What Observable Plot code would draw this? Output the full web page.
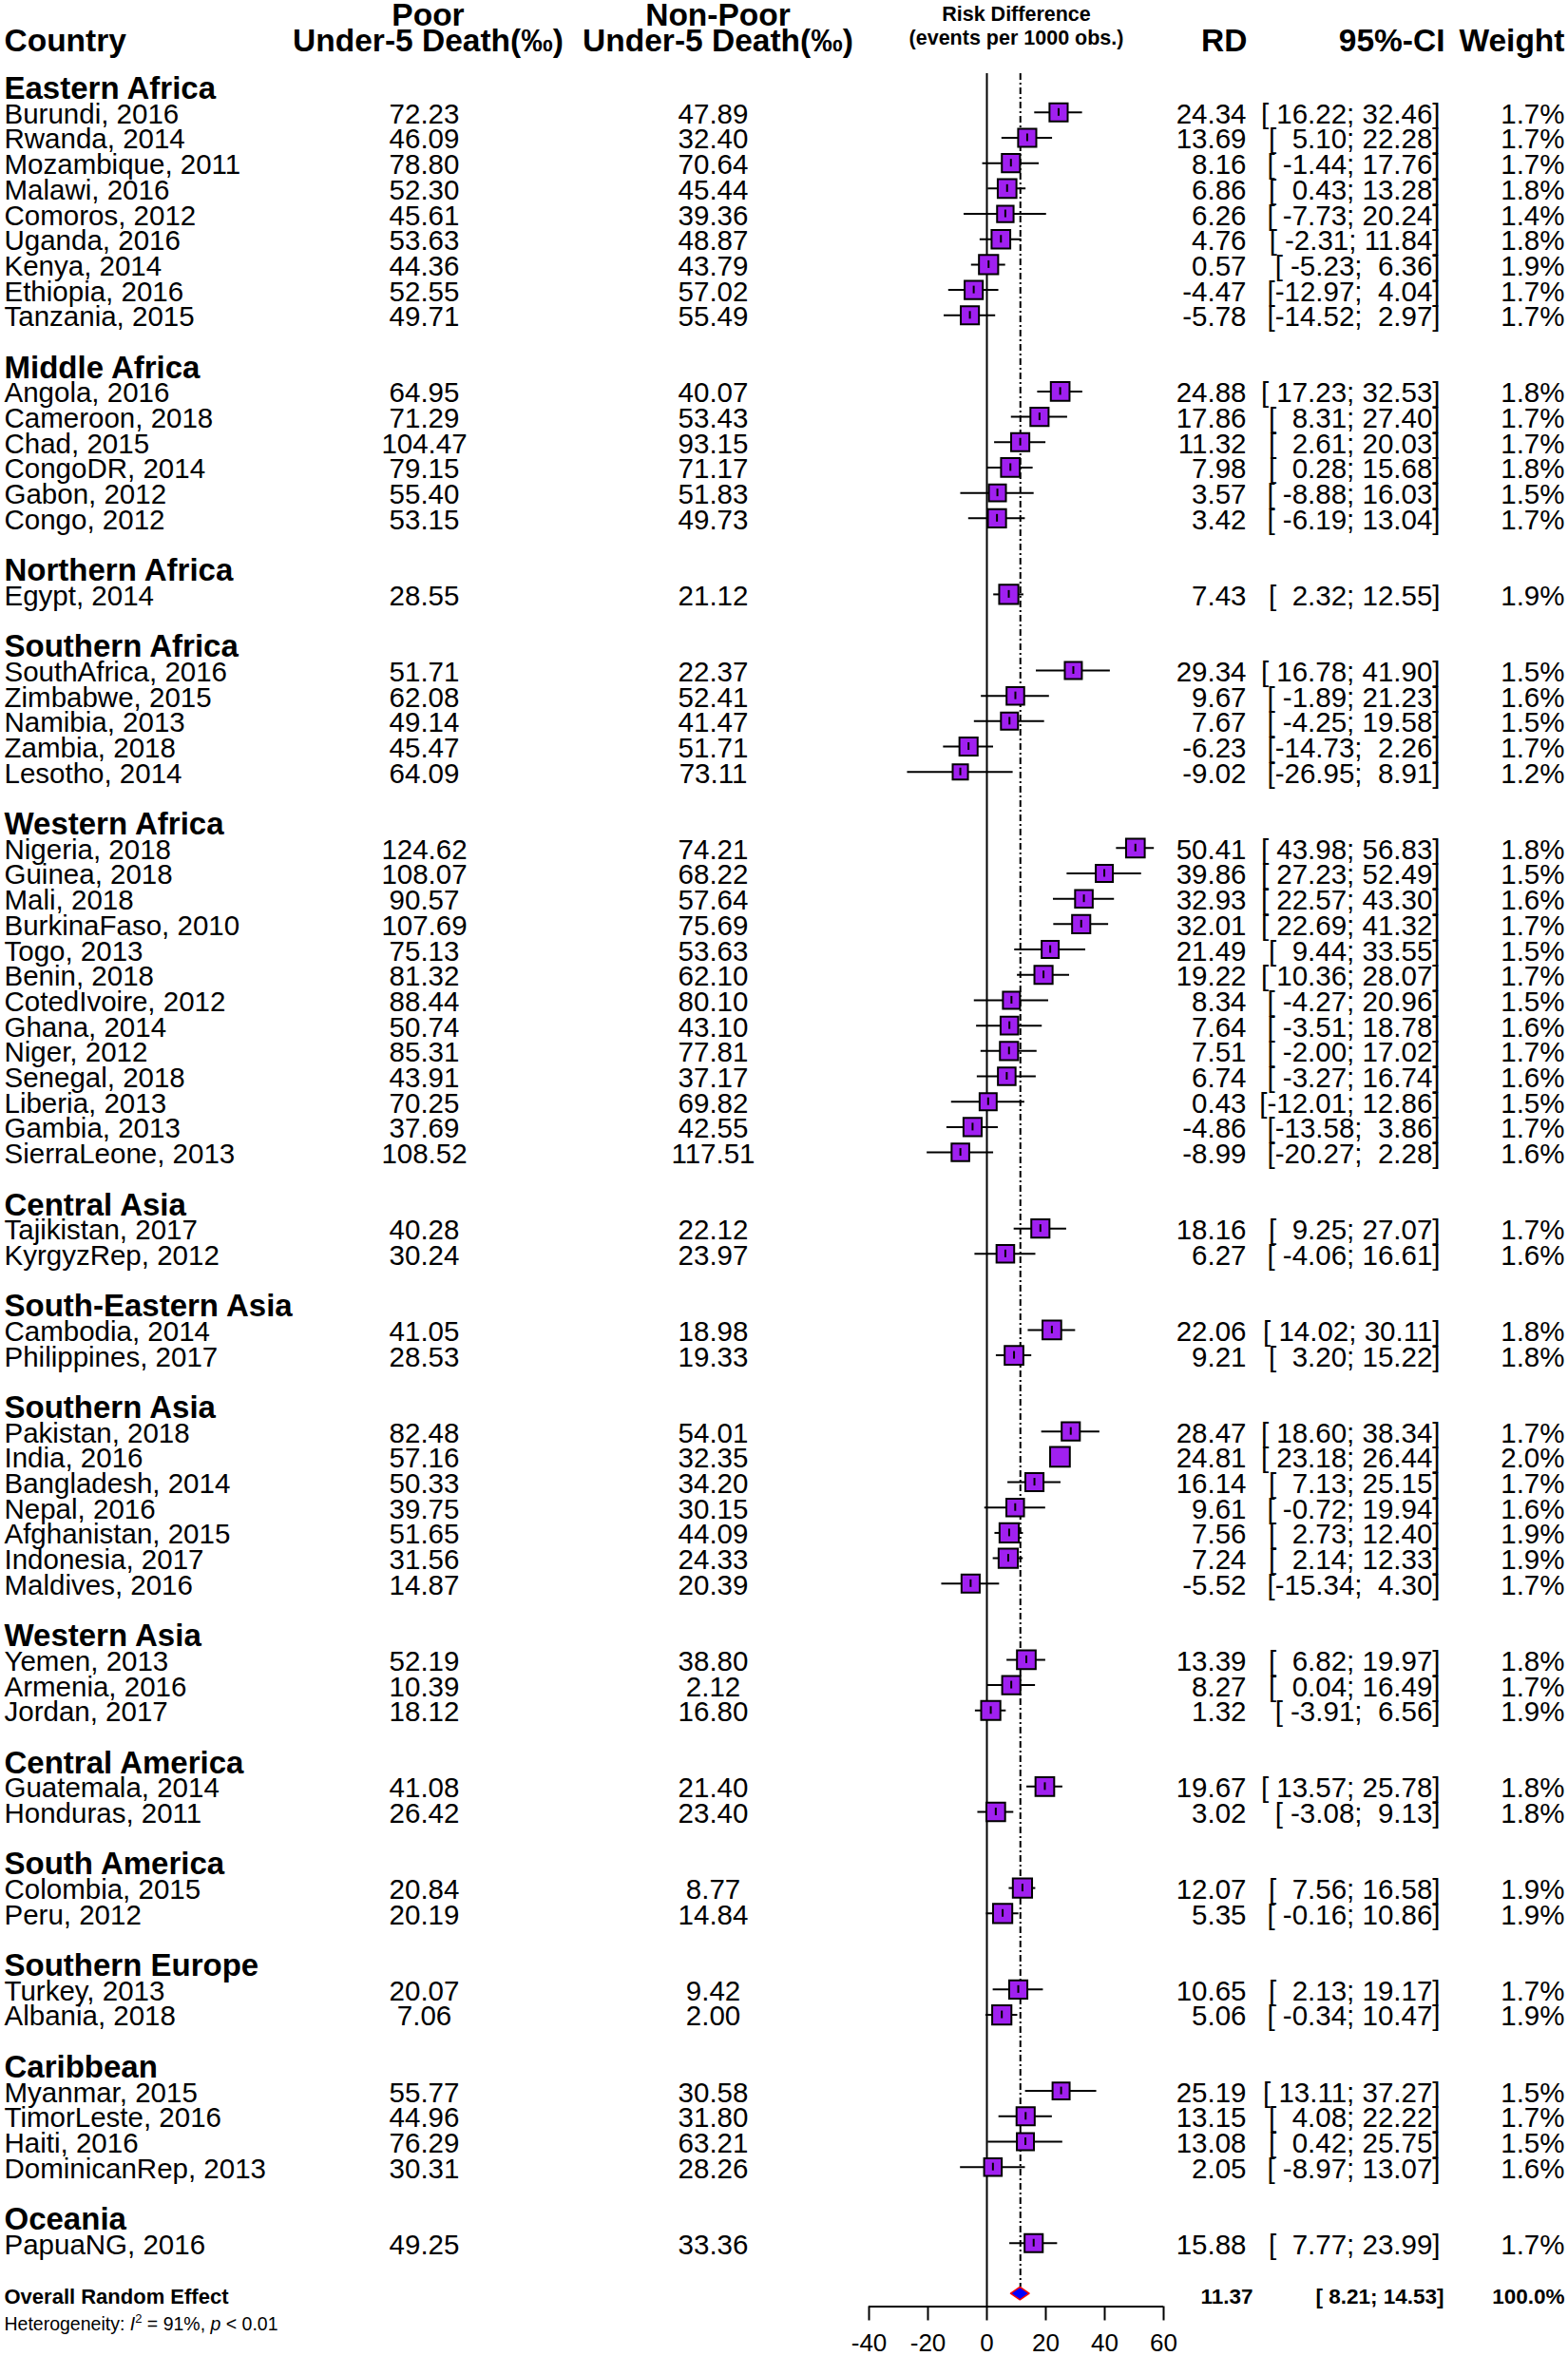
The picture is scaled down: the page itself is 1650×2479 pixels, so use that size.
<!DOCTYPE html>
<html>
<head>
<meta charset="utf-8">
<script src="https://cdn.jsdelivr.net/npm/d3@7"></script>
<script src="https://cdn.jsdelivr.net/npm/@observablehq/plot@0.6"></script>
<style>
  html, body { margin: 0; padding: 0; background: #fff; }
</style>
</head>
<body>
<div id="chart"></div>
<script>
// ---------------- DATA ----------------
const regions = ["Eastern Africa","Middle Africa","Northern Africa","Southern Africa","Western Africa",
  "Central Asia","South-Eastern Asia","Southern Asia","Western Asia","Central America",
  "South America","Southern Europe","Caribbean","Oceania"];
const regionCounts = [9,6,1,5,13,2,2,7,3,2,2,2,4,1];

const countries = ["Burundi, 2016","Rwanda, 2014","Mozambique, 2011","Malawi, 2016","Comoros, 2012","Uganda, 2016","Kenya, 2014","Ethiopia, 2016","Tanzania, 2015",
  "Angola, 2016","Cameroon, 2018","Chad, 2015","CongoDR, 2014","Gabon, 2012","Congo, 2012",
  "Egypt, 2014",
  "SouthAfrica, 2016","Zimbabwe, 2015","Namibia, 2013","Zambia, 2018","Lesotho, 2014",
  "Nigeria, 2018","Guinea, 2018","Mali, 2018","BurkinaFaso, 2010","Togo, 2013","Benin, 2018","CotedIvoire, 2012","Ghana, 2014","Niger, 2012","Senegal, 2018","Liberia, 2013","Gambia, 2013","SierraLeone, 2013",
  "Tajikistan, 2017","KyrgyzRep, 2012",
  "Cambodia, 2014","Philippines, 2017",
  "Pakistan, 2018","India, 2016","Bangladesh, 2014","Nepal, 2016","Afghanistan, 2015","Indonesia, 2017","Maldives, 2016",
  "Yemen, 2013","Armenia, 2016","Jordan, 2017",
  "Guatemala, 2014","Honduras, 2011",
  "Colombia, 2015","Peru, 2012",
  "Turkey, 2013","Albania, 2018",
  "Myanmar, 2015","TimorLeste, 2016","Haiti, 2016","DominicanRep, 2013",
  "PapuaNG, 2016"];

const poor = [72.23,46.09,78.80,52.30,45.61,53.63,44.36,52.55,49.71,
  64.95,71.29,104.47,79.15,55.40,53.15,
  28.55,
  51.71,62.08,49.14,45.47,64.09,
  124.62,108.07,90.57,107.69,75.13,81.32,88.44,50.74,85.31,43.91,70.25,37.69,108.52,
  40.28,30.24,
  41.05,28.53,
  82.48,57.16,50.33,39.75,51.65,31.56,14.87,
  52.19,10.39,18.12,
  41.08,26.42,
  20.84,20.19,
  20.07,7.06,
  55.77,44.96,76.29,30.31,
  49.25];

const nonPoor = [47.89,32.40,70.64,45.44,39.36,48.87,43.79,57.02,55.49,
  40.07,53.43,93.15,71.17,51.83,49.73,
  21.12,
  22.37,52.41,41.47,51.71,73.11,
  74.21,68.22,57.64,75.69,53.63,62.10,80.10,43.10,77.81,37.17,69.82,42.55,117.51,
  22.12,23.97,
  18.98,19.33,
  54.01,32.35,34.20,30.15,44.09,24.33,20.39,
  38.80,2.12,16.80,
  21.40,23.40,
  8.77,14.84,
  9.42,2.00,
  30.58,31.80,63.21,28.26,
  33.36];

const rd = [24.34,13.69,8.16,6.86,6.26,4.76,0.57,-4.47,-5.78,
  24.88,17.86,11.32,7.98,3.57,3.42,
  7.43,
  29.34,9.67,7.67,-6.23,-9.02,
  50.41,39.86,32.93,32.01,21.49,19.22,8.34,7.64,7.51,6.74,0.43,-4.86,-8.99,
  18.16,6.27,
  22.06,9.21,
  28.47,24.81,16.14,9.61,7.56,7.24,-5.52,
  13.39,8.27,1.32,
  19.67,3.02,
  12.07,5.35,
  10.65,5.06,
  25.19,13.15,13.08,2.05,
  15.88];

const ciLower = [16.22,5.10,-1.44,0.43,-7.73,-2.31,-5.23,-12.97,-14.52,
  17.23,8.31,2.61,0.28,-8.88,-6.19,
  2.32,
  16.78,-1.89,-4.25,-14.73,-26.95,
  43.98,27.23,22.57,22.69,9.44,10.36,-4.27,-3.51,-2.00,-3.27,-12.01,-13.58,-20.27,
  9.25,-4.06,
  14.02,3.20,
  18.60,23.18,7.13,-0.72,2.73,2.14,-15.34,
  6.82,0.04,-3.91,
  13.57,-3.08,
  7.56,-0.16,
  2.13,-0.34,
  13.11,4.08,0.42,-8.97,
  7.77];

const ciUpper = [32.46,22.28,17.76,13.28,20.24,11.84,6.36,4.04,2.97,
  32.53,27.40,20.03,15.68,16.03,13.04,
  12.55,
  41.90,21.23,19.58,2.26,8.91,
  56.83,52.49,43.30,41.32,33.55,28.07,20.96,18.78,17.02,16.74,12.86,3.86,2.28,
  27.07,16.61,
  30.11,15.22,
  38.34,26.44,25.15,19.94,12.40,12.33,4.30,
  19.97,16.49,6.56,
  25.78,9.13,
  16.58,10.86,
  19.17,10.47,
  37.27,22.22,25.75,13.07,
  23.99];

const weight = [1.7,1.7,1.7,1.8,1.4,1.8,1.9,1.7,1.7,
  1.8,1.7,1.7,1.8,1.5,1.7,
  1.9,
  1.5,1.6,1.5,1.7,1.2,
  1.8,1.5,1.6,1.7,1.5,1.7,1.5,1.6,1.7,1.6,1.5,1.7,1.6,
  1.7,1.6,
  1.8,1.8,
  1.7,2.0,1.7,1.6,1.9,1.9,1.7,
  1.8,1.7,1.9,
  1.8,1.8,
  1.9,1.9,
  1.7,1.9,
  1.5,1.7,1.5,1.6,
  1.7];

const overallRD = 11.37, overallLower = 8.21, overallUpper = 14.53, overallWeight = 100.0;
const overallLabel = "Overall Random Effect";
const i2 = 91, pText = "< 0.01";
const axisTicks = [-40, -20, 0, 20, 40, 60];

// ---------------- LAYOUT ----------------
const W = 1650, H = 2479;
const ML = 914, MR = W - 1224;
const rowTop = 91.1, rowStep = 26.69;
const nbsp = s => s.replace(/ /g, "\u00A0");

const groupRows = [], studyRows = [];
let r = 0, k = 0;
regions.forEach((g, gi) => {
  groupRows.push({row: r, label: g});
  r++;
  for (let j = 0; j < regionCounts[gi]; j++, k++, r++) {
    studyRows.push({row: r, country: countries[k], poor: poor[k], nonPoor: nonPoor[k],
      rd: rd[k], lo: ciLower[k], hi: ciUpper[k], w: weight[k]});
  }
  r++;
});
const overallRow = r;
const yBottomRow = overallRow + 0.5;
const yBottomPx = rowTop + yBottomRow * rowStep;
const MB = H - yBottomPx;

const loW = d3.max(studyRows, d => d.lo.toFixed(2).length);
const hiW = d3.max(studyRows, d => d.hi.toFixed(2).length);
studyRows.forEach(d => {
  d.ci = nbsp("[" + d.lo.toFixed(2).padStart(loW) + "; " + d.hi.toFixed(2).padStart(hiW) + "]");
});
const oW = Math.max(overallLower.toFixed(2).length, overallUpper.toFixed(2).length);
const overallCI = nbsp("[" + overallLower.toFixed(2).padStart(oW) + "; " + overallUpper.toFixed(2).padStart(oW) + "]");

const rMax = 11.7, wMax = d3.max(weight);
const pxPerUnit = (W - MR - ML) / (axisTicks[axisTicks.length - 1] - axisTicks[0]);
const side = w => rMax * Math.sqrt(w / wMax) * Math.sqrt(Math.PI);
const tickRows = studyRows.filter(d => (d.hi - d.lo) * pxPerUnit > side(d.w));

const diamond = [
  {y: overallRow - 0.25, x1: overallRD, x2: overallRD},
  {y: overallRow, x1: overallLower, x2: overallUpper},
  {y: overallRow + 0.25, x1: overallRD, x2: overallRD}
];

const col = {country: 4, poor: 446, nonPoor: 750, rd: 1311, ci: 1515, weight: 1646};
const bodySize = 29.5;

const colText = (data, text, x, anchor, opts = {}) =>
  Plot.text(data, {y: "row", text, frameAnchor: "left", dx: x - ML, textAnchor: anchor,
    lineAnchor: "middle", dy: 2, fontSize: bodySize, ...opts});

const hdr = (text, x, baseline, anchor, size) =>
  Plot.text([text], {text: d => d, frameAnchor: "top-left", dx: x - ML, dy: baseline,
    textAnchor: anchor, lineAnchor: "bottom", fontSize: size, fontWeight: "bold"});

const topRow = -0.53;
const hdrLine1 = 26, hdrLine2 = 53, hdrSize = 33.5;

const svg = Plot.plot({
  width: W, height: H,
  marginLeft: ML, marginRight: MR, marginTop: 0, marginBottom: MB,
  style: {fontFamily: "'Liberation Sans', Arial, Helvetica, sans-serif", background: "white", color: "black"},
  x: {domain: [axisTicks[0], axisTicks[axisTicks.length - 1]], label: null},
  y: {domain: [0, yBottomRow], range: [rowTop, yBottomPx], axis: null},
  r: {type: "sqrt", domain: [0, wMax], range: [0, rMax]},
  marks: [
    // reference lines
    Plot.ruleX([0], {x: d => d, y1: () => topRow, y2: () => yBottomRow, stroke: "black", strokeWidth: 2}),
    Plot.ruleX([overallRD], {x: d => d, y1: () => topRow, y2: () => overallRow - 0.25,
      stroke: "black", strokeWidth: 2, strokeDasharray: "7,3,2,3"}),
    // confidence intervals
    Plot.ruleY(studyRows, {y: "row", x1: "lo", x2: "hi", stroke: "black", strokeWidth: 2}),
    // squares
    Plot.dot(studyRows, {x: "rd", y: "row", r: "w", symbol: "square", fill: "#A020F0", stroke: "black", strokeWidth: 2}),
    Plot.ruleX(tickRows, {x: "rd", y1: d => d.row - 0.15, y2: d => d.row + 0.15, stroke: "black", strokeWidth: 2}),
    // pooled diamond
    Plot.areaX(diamond, {y: "y", x1: "x1", x2: "x2", fill: "blue", stroke: "red", strokeWidth: 1.5}),
    // axis
    Plot.ruleY([yBottomRow], {y: d => d, x1: () => axisTicks[0], x2: () => axisTicks[axisTicks.length - 1], stroke: "black", strokeWidth: 2}),
    Plot.axisX({anchor: "bottom", ticks: axisTicks, tickFormat: d => String(d), tickSize: 15, tickPadding: 14,
      fontSize: 26, strokeWidth: 2, label: null, stroke: "black", fill: "black"}),
    // headers
    hdr("Country", col.country, hdrLine2, "start", hdrSize),
    hdr("Poor", 450, hdrLine1, "middle", hdrSize),
    hdr("Under-5 Death(‰)", 450, hdrLine2, "middle", hdrSize),
    hdr("Non-Poor", 755, hdrLine1, "middle", hdrSize),
    hdr("Under-5 Death(‰)", 755, hdrLine2, "middle", hdrSize),
    hdr("Risk Difference", (ML + W - MR) / 2, 21, "middle", 21.5),
    hdr("(events per 1000 obs.)", (ML + W - MR) / 2, 46, "middle", 21.5),
    hdr("RD", 1312, hdrLine2, "end", hdrSize),
    hdr("95%-CI", 1520, hdrLine2, "end", hdrSize),
    hdr("Weight", col.weight, hdrLine2, "end", hdrSize),
    // group labels
    colText(groupRows, "label", col.country, "start", {fontWeight: "bold", fontSize: 33}),
    // study columns
    colText(studyRows, "country", col.country, "start"),
    colText(studyRows, d => d.poor.toFixed(2), col.poor, "middle"),
    colText(studyRows, d => d.nonPoor.toFixed(2), col.nonPoor, "middle"),
    colText(studyRows, d => d.rd.toFixed(2), col.rd, "end"),
    colText(studyRows, "ci", col.ci, "end"),
    colText(studyRows, d => d.w.toFixed(1) + "%", col.weight, "end"),
    // overall row
    colText([{row: overallRow}], () => overallLabel, col.country, "start", {fontWeight: "bold", fontSize: 22, dy: 3}),
    colText([{row: overallRow}], () => overallRD.toFixed(2), 1318, "end", {fontWeight: "bold", fontSize: 22.5, dy: 3}),
    colText([{row: overallRow}], () => overallCI, 1519, "end", {fontWeight: "bold", fontSize: 22.5, dy: 3}),
    colText([{row: overallRow}], () => overallWeight.toFixed(1) + "%", col.weight, "end", {fontWeight: "bold", fontSize: 22.5, dy: 3}),
    colText([{row: overallRow + 1}], () => "Heterogeneity: I2 = " + i2 + "%, p " + pText, col.country, "start", {fontSize: 19.5, dy: 5})
  ]
});

document.getElementById("chart").appendChild(svg);

// rich formatting for the heterogeneity line (italic I, superscript 2, italic p)
d3.select(svg).selectAll("text").each(function () {
  if (this.textContent.startsWith("Heterogeneity")) {
    const t = d3.select(this);
    t.text(null);
    t.append("tspan").text("Heterogeneity:\u00A0");
    t.append("tspan").attr("font-style", "italic").text("I");
    t.append("tspan").attr("font-size", 13).attr("dy", -8).text("2");
    t.append("tspan").attr("dy", 8).text(nbsp(" = " + i2 + "%, "));
    t.append("tspan").attr("font-style", "italic").text("p");
    t.append("tspan").text(nbsp(" " + pText));
  }
});
</script>
</body>
</html>
